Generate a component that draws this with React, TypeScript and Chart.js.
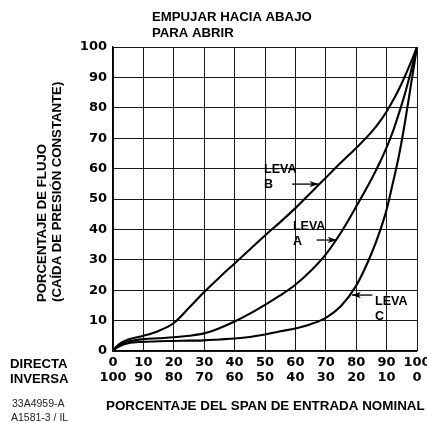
import React, { useEffect, useRef } from 'react';
import { Chart, registerables } from 'chart.js';

Chart.register(...registerables);

// ---- data ----
const spanPct = [0, 1, 3, 5, 10, 15, 20, 25, 30, 35, 40, 45, 50, 55, 60, 65, 70, 75, 80, 85, 88, 90, 92, 94, 96, 98, 100];
const levaA = [0, 1.1, 2.4, 3.1, 3.9, 4.2, 4.5, 5.0, 5.8, 7.5, 9.7, 12.3, 15.2, 18.3, 21.8, 26.3, 31.8, 39.0, 47.5, 56.5, 62.5, 67.0, 72.0, 78.0, 84.5, 92.0, 100];
const levaB = [0, 1.3, 2.9, 3.8, 5.0, 6.6, 9.2, 14.2, 19.4, 24.2, 28.8, 33.4, 38.0, 42.4, 47.0, 52.0, 57.0, 62.0, 66.8, 72.0, 75.8, 78.8, 82.2, 86.0, 90.3, 95.0, 100];
const levaC = [0, 0.9, 2.0, 2.6, 3.0, 3.2, 3.3, 3.4, 3.5, 3.8, 4.1, 4.6, 5.4, 6.5, 7.4, 8.8, 10.9, 14.8, 21.5, 32.0, 40.0, 46.5, 55.0, 64.0, 75.0, 87.5, 100];

const directLabels = ['0', '10', '20', '30', '40', '50', '60', '70', '80', '90', '100'];
const inverseLabels = ['100', '90', '80', '70', '60', '50', '40', '30', '20', '10', '0'];

const titleLines = ['EMPUJAR HACIA ABAJO', 'PARA ABRIR'];
const yTitleLines = ['PORCENTAJE DE FLUJO', '(CAÍDA DE PRESIÓN CONSTANTE)'];
const xTitle = 'PORCENTAJE DEL SPAN DE ENTRADA NOMINAL';
const rowNames = ['DIRECTA', 'INVERSA'];
const codeLines = ['33A4959-A', 'A1581-3 / IL'];
const camNames = ['B', 'A', 'C'];

const FONT = '"Liberation Sans", Arial, Helvetica, sans-serif';
const TICK_FONT = '"DejaVu Sans", "Liberation Sans", sans-serif';

// annotation placement in data units: [labelX, labelY, arrowFromX, arrowToX, arrowY]
const camAnnot: Record<string, number[]> = {
  B: [49.7, 58.6, 58.9, 67.6, 54.9],
  A: [59.2, 39.8, 67.0, 73.6, 36.5],
  C: [86.2, 15.1, 85.3, 78.6, 18.4],
};

const annotate = {
  id: 'annotate',
  afterDraw(chart: any) {
    const ctx = chart.ctx as CanvasRenderingContext2D;
    const xs = chart.scales.x;
    const ys = chart.scales.y;
    ctx.save();
    ctx.fillStyle = '#000';
    ctx.strokeStyle = '#000';
    ctx.textAlign = 'left';
    ctx.textBaseline = 'alphabetic';
    ctx.font = `bold 13.2px ${FONT}`;

    // title
    ctx.fillText(titleLines[0], 152, 21);
    ctx.fillText(titleLines[1], 152, 37);

    // y title (rotated)
    const yCols = [42, 57.5];
    yTitleLines.forEach((t, i) => {
      ctx.save();
      ctx.translate(yCols[i], 302);
      ctx.rotate(-Math.PI / 2);
      ctx.textBaseline = 'middle';
      ctx.fillText(t, 0, 0);
      ctx.restore();
    });

    // x title
    ctx.font = `bold 13.4px ${FONT}`;
    ctx.fillText(xTitle, 106, 410);

    // row names
    ctx.font = `bold 13.2px ${FONT}`;
    ctx.fillText(rowNames[0], 10, 368);
    ctx.fillText(rowNames[1], 10, 383);

    // codes
    ctx.fillStyle = '#222';
    ctx.font = `10.5px ${FONT}`;
    ctx.fillText(codeLines[0], 12, 407);
    ctx.fillText(codeLines[1], 11, 421);

    // cam labels + arrows
    ctx.fillStyle = '#000';
    ctx.font = `bold 12.5px ${FONT}`;
    ctx.lineWidth = 1.3;
    camNames.forEach((n) => {
      const [lx, ly, ax0, ax1, ay] = camAnnot[n];
      const px = xs.getPixelForValue(lx);
      const py = ys.getPixelForValue(ly);
      ctx.fillText('LEVA', px, py);
      ctx.fillText(n, px, py + 15);
      const x0 = xs.getPixelForValue(ax0);
      const x1 = xs.getPixelForValue(ax1);
      const y = ys.getPixelForValue(ay);
      ctx.beginPath();
      ctx.moveTo(x0, y);
      ctx.lineTo(x1, y);
      ctx.stroke();
      const dir = x1 > x0 ? 1 : -1;
      ctx.beginPath();
      ctx.moveTo(x1, y);
      ctx.lineTo(x1 - dir * 9, y - 3.2);
      ctx.lineTo(x1 - dir * 6.5, y);
      ctx.lineTo(x1 - dir * 9, y + 3.2);
      ctx.closePath();
      ctx.fill();
    });
    ctx.restore();
  },
};

export default function App() {
  const ref = useRef<HTMLCanvasElement | null>(null);
  useEffect(() => {
    if (!ref.current) return;
    const mk = (vals: number[]) => spanPct.map((x, i) => ({ x, y: vals[i] }));
    const lineStyle = {
      borderColor: '#000',
      backgroundColor: '#000',
      borderWidth: 2.1,
      pointRadius: 0,
      cubicInterpolationMode: 'monotone' as const,
      fill: false,
    };
    const chart = new Chart(ref.current, {
      type: 'line',
      data: {
        datasets: [
          { label: 'LEVA A', data: mk(levaA), ...lineStyle },
          { label: 'LEVA B', data: mk(levaB), ...lineStyle },
          { label: 'LEVA C', data: mk(levaC), ...lineStyle },
        ],
      },
      options: {
        responsive: false,
        animation: false,
        layout: { padding: { top: 47, right: 10, left: 0, bottom: 0 } },
        plugins: {
          legend: { display: false },
          tooltip: { enabled: false },
          title: { display: false },
        },
        scales: {
          x: {
            type: 'linear',
            min: 0,
            max: 100,
            afterFit: (s: any) => {
              s.height = 72;
              s.paddingLeft = 0;
              s.paddingRight = 0;
            },
            ticks: {
              stepSize: 10,
              autoSkip: false,
              maxRotation: 0,
              padding: 4,
              color: '#000',
              font: { family: TICK_FONT, size: 13, weight: 'bold', lineHeight: 1.15 },
              callback: (v: any) => {
                const i = Math.round(Number(v) / 10);
                return [directLabels[i], inverseLabels[i]];
              },
            },
            grid: { color: '#1a1a1a', lineWidth: 1, drawTicks: false },
            border: { display: true, color: '#000', width: 1.2 },
          },
          y: {
            type: 'linear',
            min: 0,
            max: 100,
            afterFit: (s: any) => {
              s.width = 113;
            },
            ticks: {
              stepSize: 10,
              padding: 6,
              color: '#000',
              font: { family: TICK_FONT, size: 13, weight: 'bold' },
            },
            grid: { color: '#1a1a1a', lineWidth: 1, drawTicks: false },
            border: { display: true, color: '#000', width: 1.2 },
          },
        },
      },
      plugins: [annotate],
    });
    return () => chart.destroy();
  }, []);
  return (
    <div style={{ position: 'absolute', left: 0, top: 0, width: 427, height: 423, background: '#fff' }}>
      <canvas ref={ref} width={427} height={423} style={{ display: 'block' }} />
    </div>
  );
}
